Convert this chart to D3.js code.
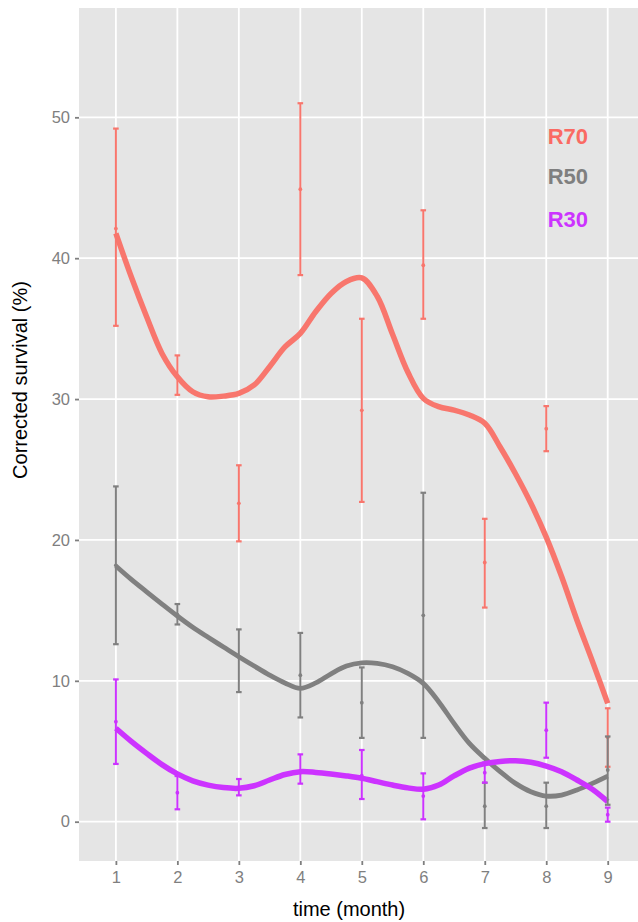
<!DOCTYPE html>
<html>
<head>
<meta charset="utf-8">
<script src="https://cdn.jsdelivr.net/npm/d3@7"></script>
<style>
  body { margin: 0; background: #fff; }
  svg { display: block; font-family: "Liberation Sans", Arial, sans-serif; }
</style>
</head>
<body>
<div id="chart"></div>
<script>
// months with measurements
var months = [1, 2, 3, 4, 5, 6, 7, 8, 9];

// R70 mean and error bar ends
var r70Mean = [42.1, 31.6, 22.6, 44.9, 29.2, 39.5, 18.4, 27.9, 6.0];
var r70Lo   = [35.2, 30.3, 19.9, 38.8, 22.7, 35.7, 15.2, 26.3, 3.9];
var r70Hi   = [49.2, 33.1, 25.3, 51.0, 35.7, 43.4, 21.5, 29.5, 8.05];

// R50
var r50Mean = [18.2, 14.7, 11.7, 10.4, 8.45, 14.65, 1.1, 1.1, 3.67];
var r50Lo   = [12.6, 14.0, 9.2, 7.4, 5.95, 5.95, -0.45, -0.45, 1.2];
var r50Hi   = [23.8, 15.45, 13.65, 13.4, 10.95, 23.35, 2.77, 2.77, 6.05];

// R30
var r30Mean = [7.1, 2.06, 2.34, 3.55, 3.26, 1.82, 3.48, 6.5, 0.5];
var r30Lo   = [4.1, 0.88, 1.87, 2.7, 1.61, 0.17, 2.77, 4.54, 0.0];
var r30Hi   = [10.1, 3.24, 3.03, 4.78, 5.09, 3.43, 4.19, 8.45, 1.0];

// smoothed trend, read every quarter month
var smoothX = [1, 1.25, 1.5, 1.75, 2, 2.25, 2.5, 2.75, 3, 3.25, 3.5, 3.75, 4, 4.25, 4.5, 4.75,
               5, 5.25, 5.5, 5.75, 6, 6.25, 6.5, 6.75, 7, 7.25, 7.5, 7.75, 8, 8.25, 8.5, 8.75, 9];
var r70Smooth = [41.76, 38.68, 35.84, 33.24, 31.58, 30.52, 30.16, 30.21, 30.4, 31.0, 32.3, 33.7, 34.66, 36.2, 37.5, 38.35,
                 38.6, 37.3, 34.6, 31.9, 30.05, 29.46, 29.22, 28.87, 28.28, 26.6, 24.7, 22.6, 20.2, 17.4, 14.3, 11.4, 8.4];
var r50Smooth = [18.15, 17.2, 16.32, 15.45, 14.6, 13.8, 13.09, 12.4, 11.71, 11.05, 10.41, 9.85, 9.47, 9.85, 10.5, 11.05,
                 11.28, 11.24, 11.0, 10.53, 9.82, 8.52, 6.98, 5.56, 4.5, 3.55, 2.72, 2.13, 1.82, 1.89, 2.25, 2.72, 3.24];
var r30Smooth = [6.63, 5.7, 4.85, 4.05, 3.39, 2.9, 2.6, 2.42, 2.37, 2.55, 2.96, 3.35, 3.55, 3.5, 3.39, 3.25,
                 3.08, 2.84, 2.6, 2.4, 2.3, 2.6, 3.25, 3.8, 4.12, 4.28, 4.33, 4.22, 3.95, 3.55, 2.96, 2.3, 1.42];

var yTicks = [0, 10, 20, 30, 40, 50];

var groups = [
  { name: "R70", color: "#F8766D", text: "#FA6A63", mean: r70Mean, lo: r70Lo, hi: r70Hi, smooth: r70Smooth, w: 5.5, labelY: 48.66 },
  { name: "R50", color: "#808080", text: "#7F7F7F", mean: r50Mean, lo: r50Lo, hi: r50Hi, smooth: r50Smooth, w: 4.8, labelY: 45.86 },
  { name: "R30", color: "#CC33FF", text: "#CC33FF", mean: r30Mean, lo: r30Lo, hi: r30Hi, smooth: r30Smooth, w: 5.5, labelY: 42.77 }
];

var width = 638, height = 922;
var panel = { left: 79, top: 8, bottom: 861, right: 644.6 };

var x = d3.scaleLinear().domain([0.4, 9.6]).range([panel.left, panel.right]);
var y = d3.scaleLinear().domain([-2.79, 57.76]).range([panel.bottom, panel.top]);

var svg = d3.select("#chart").append("svg")
    .attr("width", width)
    .attr("height", height);

svg.append("rect")
    .attr("x", panel.left)
    .attr("y", panel.top)
    .attr("width", panel.right - panel.left)
    .attr("height", panel.bottom - panel.top)
    .attr("fill", "#E5E5E5");

// grid
svg.append("g").selectAll("line")
    .data(yTicks)
    .enter().append("line")
    .attr("x1", panel.left).attr("x2", panel.right)
    .attr("y1", function (d) { return y(d); })
    .attr("y2", function (d) { return y(d); })
    .attr("stroke", "#fff")
    .attr("stroke-width", 1.8);

svg.append("g").selectAll("line")
    .data(months)
    .enter().append("line")
    .attr("y1", panel.top).attr("y2", panel.bottom)
    .attr("x1", function (d) { return x(d); })
    .attr("x2", function (d) { return x(d); })
    .attr("stroke", "#fff")
    .attr("stroke-width", 1.8);

// axes
var xAxis = svg.append("g")
    .attr("transform", "translate(0," + panel.bottom + ")")
    .call(d3.axisBottom(x).tickValues(months).tickSize(4).tickPadding(6).tickFormat(d3.format("d")));
var yAxis = svg.append("g")
    .attr("transform", "translate(" + panel.left + ",0)")
    .call(d3.axisLeft(y).tickValues(yTicks).tickSize(4).tickPadding(5));

[xAxis, yAxis].forEach(function (ax) {
    ax.select(".domain").remove();
    ax.selectAll(".tick line").attr("stroke", "#7F7F7F").attr("stroke-width", 1.8);
    ax.selectAll(".tick text")
        .attr("fill", "#7F7F7F")
        .style("font-size", "16.5px")
        .style("font-family", "'Liberation Sans', Arial, sans-serif");
});

svg.append("text")
    .attr("x", 349)
    .attr("y", 916)
    .attr("text-anchor", "middle")
    .style("font-size", "20px")
    .attr("fill", "#000")
    .text("time (month)");

svg.append("text")
    .attr("transform", "translate(27,380) rotate(-90)")
    .attr("text-anchor", "middle")
    .style("font-size", "20px")
    .attr("fill", "#000")
    .text("Corrected survival (%)");

// smooth lines
var line = d3.line()
    .x(function (d) { return x(d[0]); })
    .y(function (d) { return y(d[1]); })
    .curve(d3.curveCatmullRom.alpha(0.5));

groups.forEach(function (g) {
    svg.append("path")
        .datum(smoothX.map(function (v, i) { return [v, g.smooth[i]]; }))
        .attr("d", line)
        .attr("fill", "none")
        .attr("stroke", g.color)
        .attr("stroke-width", g.w)
        .attr("stroke-linecap", "butt");
});

// error bars
groups.forEach(function (g) {
    var bars = svg.append("g").selectAll("g")
        .data(months)
        .enter().append("g");

    bars.append("line")
        .attr("x1", function (d) { return x(d); })
        .attr("x2", function (d) { return x(d); })
        .attr("y1", function (d, i) { return y(g.lo[i]); })
        .attr("y2", function (d, i) { return y(g.hi[i]); })
        .attr("stroke", g.color)
        .attr("stroke-width", 2);

    ["lo", "hi"].forEach(function (k) {
        bars.append("line")
            .attr("x1", function (d) { return x(d) - 2.8; })
            .attr("x2", function (d) { return x(d) + 2.8; })
            .attr("y1", function (d, i) { return y(g[k][i]); })
            .attr("y2", function (d, i) { return y(g[k][i]); })
            .attr("stroke", g.color)
            .attr("stroke-width", 2.2);
    });

    bars.append("circle")
        .attr("cx", function (d) { return x(d); })
        .attr("cy", function (d, i) { return y(g.mean[i]); })
        .attr("r", 1.9)
        .attr("fill", g.color);
});

// labels
svg.append("g").selectAll("text")
    .data(groups)
    .enter().append("text")
    .attr("x", x(8) + 1.5)
    .attr("y", function (d) { return y(d.labelY); })
    .attr("dy", "0.36em")
    .style("font-size", "22px")
    .style("font-weight", "bold")
    .attr("fill", function (d) { return d.text; })
    .text(function (d) { return d.name; });
</script>
</body>
</html>
